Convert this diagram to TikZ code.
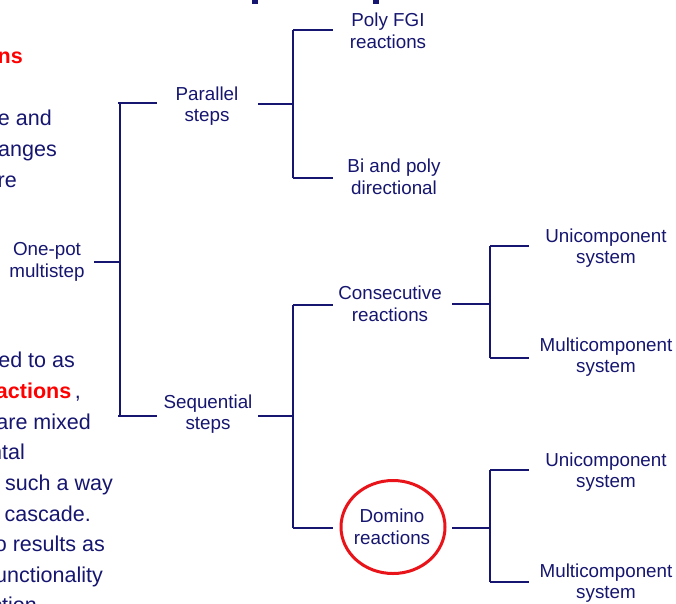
\documentclass[tikz,border=0pt]{standalone}
\usepackage{fontspec}
\usetikzlibrary{shapes.geometric}
\setmainfont{Liberation Sans}
\definecolor{navy}{RGB}{22,22,112}
\definecolor{hot}{RGB}{255,0,0}
\definecolor{ring}{RGB}{232,20,26}
\tikzset{
  lbl/.style={text=navy, align=center, inner sep=0pt, font=\fontsize{18.8}{21.5}\selectfont},
  side/.style={text=navy, anchor=base east, inner sep=0pt, font=\fontsize{21.5}{26}\selectfont},
  link/.style={draw=navy, line width=2.2pt},
}
\begin{document}
\begin{tikzpicture}[x=1pt,y=-1pt]
\useasboundingbox (0,0) rectangle (676,603);
\clip (0,0) rectangle (676,603);
\fill[white] (0,0) rectangle (676,603);
% title fragments
\fill[navy] (252,0) rectangle (258,4);
\fill[navy] (373,0) rectangle (379,4);
% left side text (clipped)
\node[side] (t1) at (23,63) {\textcolor{hot}{\bfseries ns}};
\node[side] (t2) at (52,125) {e and};
\node[side] (t3) at (57,156) {anges};
\node[side] (t4) at (17,187) {re};
\node[side] (t5) at (75,367) {ed to as};
\node[side] (t6) at (81,398) {\textcolor{hot}{\bfseries eactions}\,,};
\node[side] (t7) at (91,429) {are mixed};
\node[side] (t8) at (25,459) {ntal};
\node[side] (t9) at (113,490) {such a way};
\node[side] (t10) at (91,521) {cascade.};
\node[side] (t11) at (105,551) {o results as};
\node[side] (t12) at (103,582) {unctionality};
\node[side] (t13) at (37,612) {ction};
% tree nodes
\node[lbl] (root) at (47,262) {One-pot\\multistep};
\node[lbl] (par) at (207,106) {Parallel\\steps};
\node[lbl] (seq) at (208,414) {Sequential\\steps};
\node[lbl] (poly) at (388,31) {Poly FGI\\reactions};
\node[lbl] (bi) at (394,177) {Bi and poly\\directional};
\node[lbl] (cons) at (390,304) {Consecutive\\reactions};
\node[draw=ring, line width=3pt, ellipse, minimum width=104pt, minimum height=93pt, inner sep=0pt] (domring) at (393,527) {};
\node[lbl] (dom) at (392,527) {Domino\\reactions};
\node[lbl] (u1) at (606,248) {Unicomponent\\system};
\node[lbl] (m1) at (606,357) {Multicomponent\\system};
\node[lbl] (u2) at (606,472) {Unicomponent\\system};
\node[lbl] (m2) at (606,583) {Multicomponent\\system};
% branch coordinates
\coordinate (j0) at (120,262);
\coordinate (j0a) at (120,103);
\coordinate (j0b) at (120,416);
\coordinate (j1) at (293,104);
\coordinate (j1a) at (293,30);
\coordinate (j1b) at (293,178);
\coordinate (j2) at (293,416);
\coordinate (j2a) at (293,305);
\coordinate (j2b) at (293,528);
\coordinate (j3) at (490,304);
\coordinate (j3a) at (490,246);
\coordinate (j3b) at (490,358);
\coordinate (j4) at (490,528);
\coordinate (j4a) at (490,470);
\coordinate (j4b) at (490,582);
% connectors
\draw[link] (94,262) -- (j0);
\draw[link] (118,103) -- (157,103) (118,416) -- (157,416) (j0a) -- (j0b);
\draw[link] (258,104) -- (j1) (j1a) -- (j1b) (j1a) -- (333,30) (j1b) -- (333,178);
\draw[link] (258,416) -- (j2) (j2a) -- (j2b) (j2a) -- (333,305) (j2b) -- (333,528);
\draw[link] (452,304) -- (j3) (j3a) -- (j3b) (j3a) -- (529,246) (j3b) -- (529,358);
\draw[link] (452,528) -- (j4) (j4a) -- (j4b) (j4a) -- (529,470) (j4b) -- (529,582);
\end{tikzpicture}
\end{document}
